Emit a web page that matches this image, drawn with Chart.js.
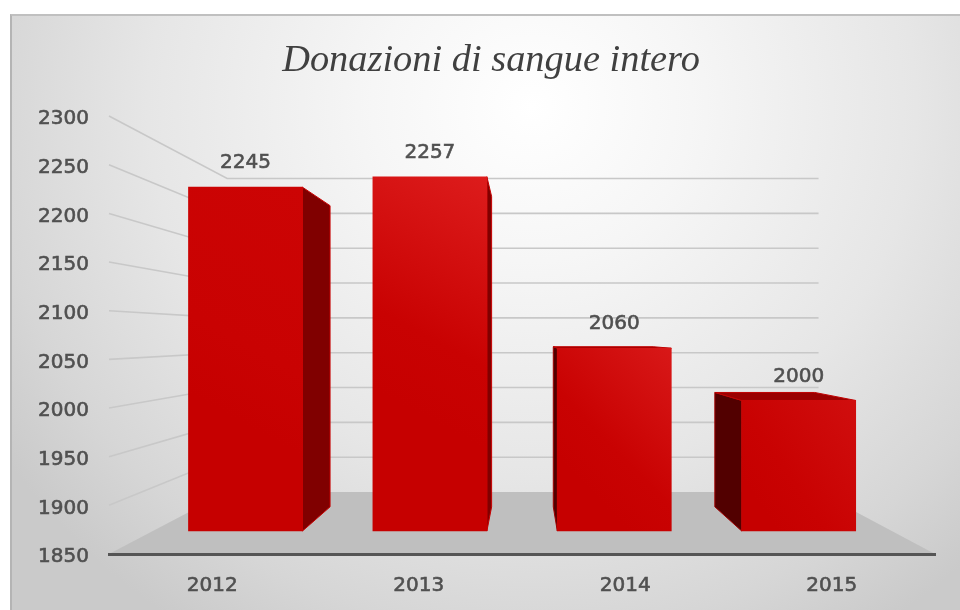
<!DOCTYPE html>
<html>
<head>
<meta charset="utf-8">
<title>Donazioni di sangue intero</title>
<script src="https://cdn.jsdelivr.net/npm/chart.js@4"></script>
<style>
  html, body { margin: 0; background: #fff; overflow: hidden; }
  #panel {
    position: absolute; left: 10px; top: 14px; width: 950px; height: 596px;
    border-left: 2px solid #b4b4b4; border-top: 2px solid #c0c0c0;
    background: radial-gradient(ellipse 640px 620px at 520px 90px, #ffffff 0%, #f6f6f6 25%, #e6e6e6 60%, #d6d6d6 85%, #cacaca 100%);
  }
  #grafico { position: absolute; left: 0; top: 0; }
</style>
</head>
<body>
<div id="panel"></div>
<canvas id="grafico" width="960" height="610"></canvas>
<script>
const titolo = "Donazioni di sangue intero";
const anni = [2012, 2013, 2014, 2015];
const donazioni = [2245, 2257, 2060, 2000];
const asseMin = 1850;
const asseMax = 2300;
const asseStep = 50;

// Fake 3D: everything recedes towards one vanishing point
const fuga = { x: 525, y: 336 };
const fondoBarra = 0.876;
const fondoParete = 0.716;

function proietta(x, y, f) {
  return { x: fuga.x + (x - fuga.x) * f, y: fuga.y + (y - fuga.y) * f };
}

function poligono(ctx, punti, colore, bordo) {
  ctx.beginPath();
  punti.forEach((p, i) => i ? ctx.lineTo(p.x, p.y) : ctx.moveTo(p.x, p.y));
  ctx.closePath();
  ctx.fillStyle = colore;
  ctx.fill();
  if (bordo) {
    ctx.strokeStyle = bordo;
    ctx.lineWidth = 1;
    ctx.stroke();
  }
}

// Floor, side wall and back wall, taken from the visible y axis
const pareti = {
  id: "pareti",
  beforeDatasetsDraw(chart) {
    const { ctx, chartArea } = chart;
    const y = chart.scales.y;
    const base = y.getPixelForValue(asseMin);
    poligono(ctx, [
      { x: chartArea.left, y: base },
      proietta(chartArea.left, base, fondoParete),
      proietta(chartArea.right, base, fondoParete),
      { x: chartArea.right, y: base }
    ], "#bfbfbf");

    ctx.strokeStyle = "#c8c8c8";
    ctx.lineWidth = 1.6;
    y.ticks.forEach(t => {
      if (t.value === asseMin) return;
      const py = y.getPixelForValue(t.value);
      const a = proietta(chartArea.left, py, fondoParete);
      const b = proietta(chartArea.right, py, fondoParete);
      ctx.beginPath();
      ctx.moveTo(chartArea.left, py);
      ctx.lineTo(a.x, a.y);
      ctx.lineTo(b.x, b.y);
      ctx.stroke();
    });

    // Side and top faces of each bar
    chart.getDatasetMeta(0).data.forEach(bar => {
      const sx = bar.x - bar.width / 2;
      const dx = bar.x + bar.width / 2;
      if (dx < fuga.x) {
        poligono(ctx, [
          { x: dx, y: bar.y }, proietta(dx, bar.y, fondoBarra),
          proietta(dx, bar.base, fondoBarra), { x: dx, y: bar.base }
        ], "#800000", "#c80000");
      }
      if (sx > fuga.x - 40 && dx > fuga.x) {
        poligono(ctx, [
          { x: sx, y: bar.y }, proietta(sx, bar.y, fondoBarra),
          proietta(sx, bar.base, fondoBarra), { x: sx, y: bar.base }
        ], "#520000", "#a00000");
      }
      if (bar.y > fuga.y) {
        poligono(ctx, [
          { x: sx, y: bar.y }, proietta(sx, bar.y, fondoBarra),
          proietta(dx, bar.y, fondoBarra), { x: dx, y: bar.y }
        ], "#9a0000", "#c00000");
      }
    });
  }
};

const etichette = {
  id: "etichette",
  afterDatasetsDraw(chart) {
    const { ctx } = chart;
    ctx.font = "20px 'DejaVu Sans'";
    ctx.fillStyle = "#505050";
    ctx.strokeStyle = "#505050";
    ctx.lineWidth = 0.6;
    ctx.textAlign = "center";
    ctx.textBaseline = "middle";
    chart.getDatasetMeta(0).data.forEach((bar, i) => {
      ctx.fillText(String(donazioni[i]), bar.x, bar.y - 24);
      ctx.strokeText(String(donazioni[i]), bar.x, bar.y - 24);
    });
  }
};

const chiari = ["#cc0404", "#dd1c1c", "#d81818", "#d00e0e"];

function coloreBarra(context) {
  const chart = context.chart;
  const i = context.dataIndex;
  if (!chart.chartArea || i === undefined) return "#c80000";
  const x = chart.scales.xBarre.getPixelForValue(anni[i]);
  const top = chart.scales.yBarre.getPixelForValue(donazioni[i]);
  const base = chart.scales.yBarre.getPixelForValue(asseMin);
  const g = chart.ctx.createLinearGradient(x - 57, top + (base - top) * 0.6, x + 57, top);
  g.addColorStop(0, "#c60000");
  g.addColorStop(0.3, "#c90202");
  g.addColorStop(1, chiari[i]);
  return g;
}

const fontAssi = { family: "'DejaVu Sans'", size: 20 };

new Chart(document.getElementById("grafico"), {
  type: "bar",
  plugins: [pareti, etichette],
  data: {
    labels: anni.map(String),
    datasets: [{
      data: anni.map((a, i) => ({ x: a, y: donazioni[i] })),
      xAxisID: "xBarre",
      yAxisID: "yBarre",
      base: asseMin,
      backgroundColor: coloreBarra,
      borderWidth: 0,
      barThickness: 114
    }]
  },
  options: {
    responsive: false,
    animation: false,
    layout: { padding: { left: 36, right: 14, top: 0, bottom: 0 } },
    plugins: {
      legend: { display: false },
      tooltip: { enabled: false },
      title: {
        display: true,
        text: titolo,
        color: "#404040",
        font: { family: "'Liberation Serif'", size: 38.4, style: "italic", weight: "normal", lineHeight: 1.2 },
        padding: { top: 38, bottom: 32 }
      }
    },
    scales: {
      x: {
        position: "bottom",
        offset: true,
        grid: { display: false, drawTicks: false },
        border: { display: true, color: "#555555", width: 3, z: 1 },
        ticks: { color: "#505050", textStrokeColor: "#505050", textStrokeWidth: 0.6, font: fontAssi, padding: 20, maxRotation: 0 },
        afterFit(s) { s.height = 56; }
      },
      y: {
        position: "left",
        min: asseMin,
        max: asseMax,
        grid: { display: false, drawTicks: false },
        border: { display: false },
        ticks: {
          stepSize: asseStep,
          color: "#505050",
          textStrokeColor: "#505050",
          textStrokeWidth: 0.6,
          font: fontAssi,
          padding: 20,
          labelOffset: 3,
          callback: v => String(v)
        },
        afterFit(s) { s.width = 73; }
      },
      // Bars stand further back than the axes, so they get their own hidden scales
      xBarre: { type: "linear", display: false, position: "bottom", offset: false, min: 2011.26, max: 2015.739, grid: { display: false } },
      yBarre: {
        type: "linear",
        position: "right",
        min: 1823.6,
        max: 2326.7,
        grid: { display: false, drawTicks: false },
        border: { display: false },
        ticks: { display: false },
        afterFit(s) { s.width = 11; }
      }
    }
  }
});
</script>
</body>
</html>
